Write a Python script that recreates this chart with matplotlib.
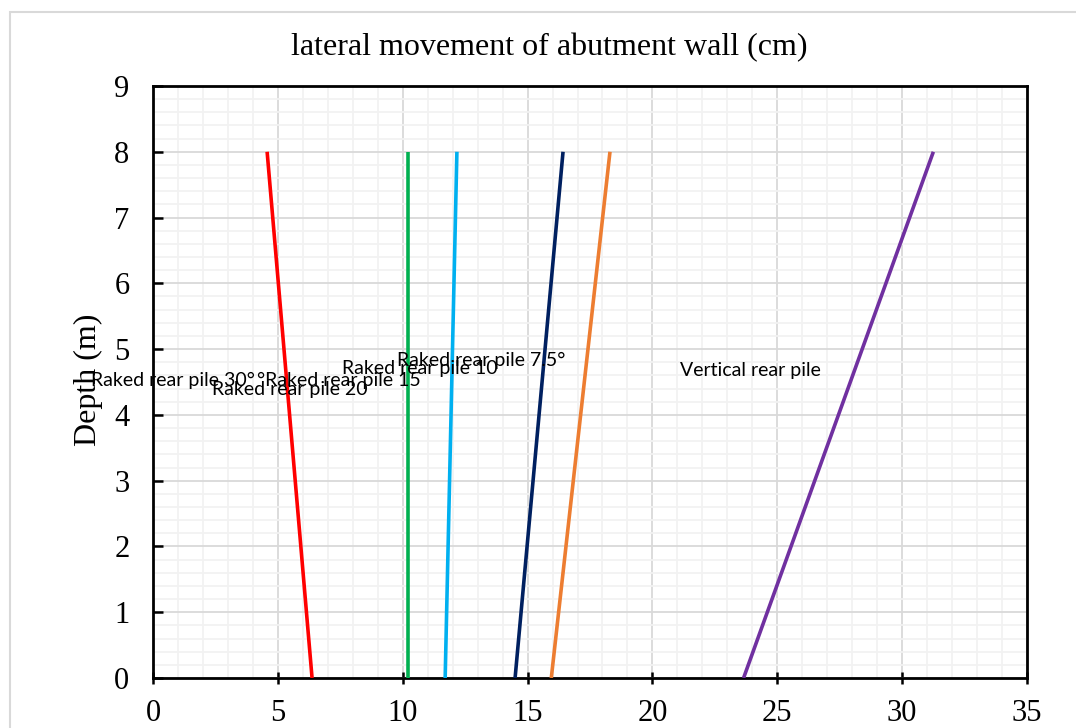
import numpy as np
import matplotlib.pyplot as plt
from matplotlib.patches import Rectangle

# depth (m) at the two ends of each profile
depth = [0, 8]

# lateral movement (cm) at depth 0 and 8
names = ['Raked rear pile 30°', 'Raked rear pile 20', '°Raked rear pile 15',
         'Raked rear pile 10', 'Raked rear pile 7.5°', 'Vertical rear pile']
move_bottom = [6.37, 10.2, 11.7, 14.5, 15.95, 23.65]
move_top = [4.57, 10.2, 12.17, 16.42, 18.3, 31.25]
colors = ['#FF0000', '#00B050', '#00B0F0', '#002060', '#ED7D31', '#7030A0']

# where the data labels sit (x, y in data units, left aligned)
label_pos = [(-2.48, 4.53), (2.36, 4.38), (4.16, 4.53),
             (7.57, 4.71), (9.77, 4.83), (21.1, 4.68)]

fig = plt.figure(figsize=(10.76, 7.28), dpi=100)
ax = fig.add_axes([153/1076, 1-678/728, (1027-153)/1076, (678-86)/728])

# chart area border
fig.patches.append(Rectangle((10/1076, -0.1), 1.2, 1-12/728+0.1,
                             transform=fig.transFigure, fill=False,
                             edgecolor='#d9d9d9', linewidth=1.5))

ax.set_xlim(0, 35)
ax.set_ylim(0, 9)
ax.set_xticks(np.arange(0, 36, 5))
ax.set_yticks(np.arange(0, 10, 1))
ax.set_xticks(np.arange(0, 36, 1), minor=True)
ax.set_yticks(np.arange(0, 9.01, 0.2), minor=True)
ax.grid(which='major', color='#d9d9d9', linewidth=1.3)
ax.grid(which='minor', color='#f2f2f2', linewidth=1.3)
ax.set_axisbelow(True)

for x0, x1, c in zip(move_bottom, move_top, colors):
    ax.plot([x0, x1], depth, color=c, linewidth=2.6,
            solid_capstyle='butt', zorder=3)

for n, (lx, ly) in zip(names, label_pos):
    ax.text(lx, ly, n, fontsize=14, family=['Lato', 'DejaVu Sans'],
            ha='left', va='center', zorder=4, clip_on=False)

for s in ax.spines.values():
    s.set_linewidth(2)
    s.set_color('black')

serif = 'Liberation Serif'
ax.tick_params(axis='x', which='major', direction='inout', length=8, width=1.8,
               pad=11, labelsize=22, labelfontfamily=serif)
ax.tick_params(axis='y', which='major', direction='in', length=7, width=1.8,
               pad=17, labelsize=22, labelfontfamily=serif)
ax.tick_params(which='minor', length=0)

fig.text(549/1076, 1-48/728, 'lateral movement of abutment wall (cm)',
         ha='center', va='center', fontsize=23, family=serif)
fig.text(88/1076, 1-380/728, 'Depth (m)', rotation=90,
         ha='center', va='center', fontsize=23, family=serif)

fig.savefig('out.png', dpi=100)
